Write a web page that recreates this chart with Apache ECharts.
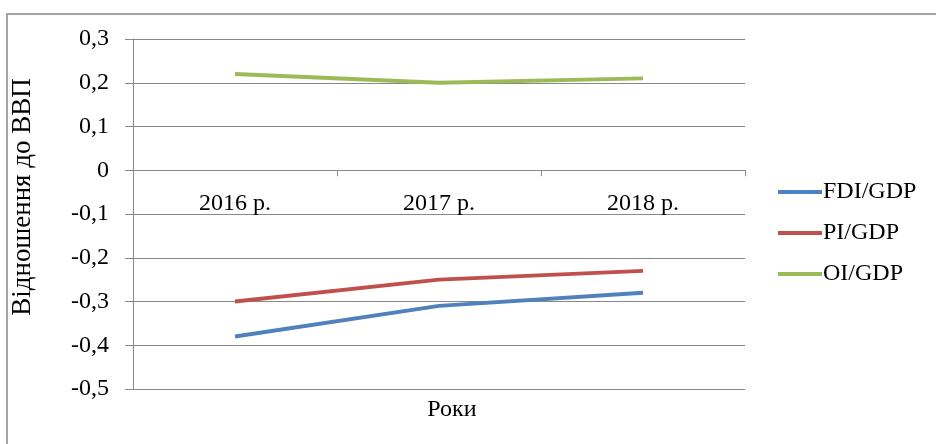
<!DOCTYPE html>
<html>
<head>
<meta charset="utf-8">
<script src="https://cdn.jsdelivr.net/npm/echarts@6/dist/echarts.min.js"></script>
<style>
  html, body { margin: 0; padding: 0; background: #fff; }
  #chart { width: 936px; height: 444px; }
</style>
</head>
<body>
<div id="chart"></div>
<script>
// Years on the category axis
const years = ['2016 р.', '2017 р.', '2018 р.'];

// Capital flows relative to GDP
const fdiGdp = [-0.38, -0.31, -0.28];
const piGdp = [-0.30, -0.25, -0.23];
const oiGdp = [0.22, 0.20, 0.21];

const seriesNames = ['FDI/GDP', 'PI/GDP', 'OI/GDP'];
const seriesColors = ['#4F81BD', '#C0504D', '#9BBB59'];

const yAxisTitle = 'Відношення до ВВП';
const xAxisTitle = 'Роки';

const font = 'Liberation Serif, Times New Roman, serif';
const gray = '#888888';

const yMin = -0.5, yMax = 0.3;
const gridTop = 39, gridBottom = 55, chartHeight = 444;

// Category axis sits on the zero line: shift it up from the grid bottom
const plotHeight = chartHeight - gridTop - gridBottom;
const zeroOffset = -plotHeight * (0 - yMin) / (yMax - yMin);

const chart = echarts.init(document.getElementById('chart'), null, { renderer: 'canvas' });

const seriesData = [fdiGdp, piGdp, oiGdp];

chart.setOption({
  animation: false,
  backgroundColor: '#ffffff',
  grid: { left: 133, right: 191, top: gridTop, bottom: gridBottom },
  legend: {
    orient: 'vertical',
    left: 773,
    top: 175,
    itemWidth: 44,
    itemHeight: 4,
    itemGap: 17,
    icon: 'rect',
    data: seriesNames,
    textStyle: { fontFamily: font, fontSize: 24, color: '#000', padding: [0, 0, 0, -4] }
  },
  graphic: [
    {
      type: 'rect',
      shape: { x: 7, y: 14, width: 940, height: 460 },
      style: { fill: 'none', stroke: gray, lineWidth: 1.5 },
      silent: true
    },
    {
      type: 'text',
      x: 452,
      y: 410,
      style: {
        text: xAxisTitle,
        font: '24px ' + font,
        fill: '#000',
        align: 'center',
        verticalAlign: 'middle'
      }
    },
    {
      type: 'text',
      x: 23,
      y: 197,
      rotation: Math.PI / 2,
      style: {
        text: yAxisTitle,
        font: '27px ' + font,
        fill: '#000',
        align: 'center',
        verticalAlign: 'middle'
      }
    }
  ],
  xAxis: {
    type: 'category',
    data: years,
    boundaryGap: true,
    offset: zeroOffset,
    axisLine: { onZero: false, lineStyle: { color: gray, width: 1 } },
    axisTick: { show: true, length: 6, lineStyle: { color: gray } },
    axisLabel: { fontFamily: font, fontSize: 24, color: '#000', margin: 21 },
    splitLine: { show: false }
  },
  yAxis: {
    type: 'value',
    min: yMin,
    max: yMax,
    interval: 0.1,
    axisLine: { show: true, lineStyle: { color: gray, width: 1 } },
    axisTick: { show: true, length: 8, lineStyle: { color: gray } },
    axisLabel: {
      fontFamily: font,
      fontSize: 24,
      color: '#000',
      margin: 24,
      formatter: v => {
        const r = Math.round(v * 10) / 10;
        return (r === 0 ? '0' : r.toFixed(1)).replace('.', ',');
      }
    },
    splitLine: { show: true, lineStyle: { color: gray, width: 1 } }
  },
  series: seriesNames.map((name, i) => ({
    name,
    type: 'line',
    data: seriesData[i],
    symbol: 'none',
    lineStyle: { width: 4, color: seriesColors[i] },
    itemStyle: { color: seriesColors[i] }
  }))
});
</script>
</body>
</html>
